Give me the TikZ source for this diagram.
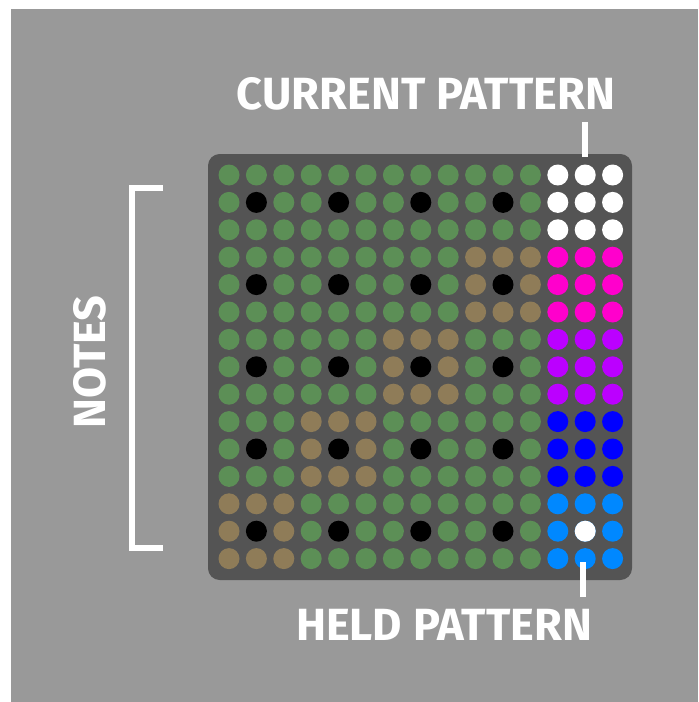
\documentclass[tikz,border=0pt]{standalone}
\usepackage{fontspec}
\setmainfont{Fira Sans}
\definecolor{bggray}{RGB}{153,153,153}
\definecolor{padgray}{RGB}{84,84,84}
\definecolor{padgreen}{RGB}{92,143,86}
\definecolor{padtan}{RGB}{143,124,88}
\definecolor{patpink}{RGB}{255,0,204}
\definecolor{patpurple}{RGB}{187,0,255}
\definecolor{patblue}{RGB}{0,0,255}
\definecolor{patsky}{RGB}{0,136,255}
\usetikzlibrary{calc}

\begin{document}
\begin{tikzpicture}[x=0.03cm, y=-0.03cm,
    every node/.style={font=\bfseries\fontsize{38.5}{42}\selectfont, text=white, inner sep=0pt},
    tick/.style={white, line width=5pt}]
    % background and pad
    \fill[white] (0,0) rectangle (698,702);
    \fill[bggray] (11,9) rectangle (698,702);
    \fill[padgray, rounded corners=10pt] (208,154) rectangle (632,580);

    % note grid
    \foreach \r in {0,...,14} {
        \foreach \c in {0,...,11} {
            \pgfmathtruncatemacro\blk{int(\r/3)+int(\c/3)}
            \pgfmathtruncatemacro\key{(mod(\r,3)==1)*(mod(\c,3)==1)}
            \ifnum\key=1 \def\dotcol{black}\else\ifnum\blk=4 \def\dotcol{padtan}\else\def\dotcol{padgreen}\fi\fi
            \fill[\dotcol] (229+27.4*\c, 175+27.4*\r) circle [radius=3.15mm];
        }
    }

    % pattern columns
    \foreach \col [count=\b from 0] in {white,patpink,patpurple,patblue,patsky} {
        \foreach \r in {0,1,2} {
            \foreach \c in {12,13,14} {
                \fill[\col] (229+27.4*\c, 175+27.4*\b*3+27.4*\r) circle [radius=3.15mm];
            }
        }
    }
    \fill[white] (229+27.4*13, 175+27.4*13) circle [radius=3.15mm];

    % labels
    \node (cur) at (426,94) {CURRENT PATTERN};
    \node (held) at (444,625) {HELD PATTERN};
    \node[rotate=90] (notes) at (90,362) {NOTES};

    \coordinate (curtop) at (585,122);
    \coordinate (curend) at (585,157);
    \draw[tick] (curtop) -- (curend);
    \coordinate (heldtop) at (583,562);
    \coordinate (heldend) at (583,597);
    \draw[tick] (heldtop) -- (heldend);

    % bracket
    \coordinate (brtop) at (163,188);
    \coordinate (brbot) at (163,548);
    \draw[tick] (brtop) -- (132,188) -- (132,548) -- (brbot);
\end{tikzpicture}
\end{document}
